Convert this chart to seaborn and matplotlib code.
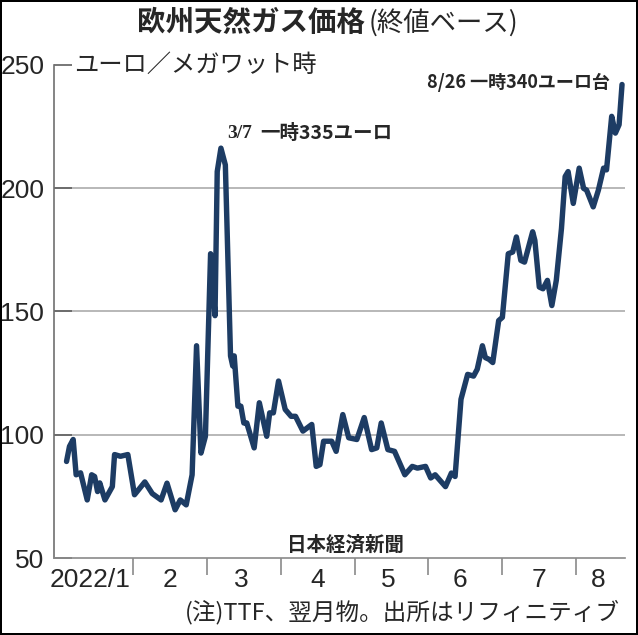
import pandas as pd
import seaborn as sns
import matplotlib.pyplot as plt

# x = position in months (0 = start of Jan 2022), values in euro / MWh
month_pos = [0.10, 0.14, 0.19, 0.23, 0.29, 0.38, 0.44, 0.48, 0.52, 0.55,
             0.62, 0.72, 0.75, 0.83, 0.93, 1.02, 1.16, 1.26, 1.38, 1.46,
             1.57, 1.64, 1.72, 1.80, 1.86, 1.92, 1.98, 2.05, 2.11, 2.14,
             2.19, 2.25, 2.32, 2.35, 2.37, 2.42, 2.46, 2.50, 2.54, 2.64,
             2.71, 2.81, 2.85, 2.90, 2.97, 3.06, 3.14, 3.20, 3.30, 3.42,
             3.48, 3.53, 3.58, 3.69, 3.75, 3.84, 3.92, 4.03, 4.13, 4.23,
             4.30, 4.36, 4.45, 4.54, 4.68, 4.78, 4.85, 4.96, 5.03, 5.09,
             5.23, 5.31, 5.36, 5.44, 5.53, 5.61, 5.66, 5.73, 5.77, 5.82,
             5.87, 5.95, 6.00, 6.08, 6.14, 6.19, 6.25, 6.30, 6.41, 6.44,
             6.50, 6.55, 6.61, 6.67, 6.73, 6.80, 6.85, 6.89, 6.96, 7.04,
             7.10, 7.14, 7.23, 7.30, 7.37, 7.41, 7.48, 7.53, 7.58, 7.62]
price = [89.2, 95.3, 98.1, 83.8, 84.6, 73.6, 83.8, 83.1, 77.0, 80.5,
         73.6, 79.0, 92.0, 91.3, 92.0, 75.7, 80.9, 76.2, 73.6, 80.4,
         69.6, 73.6, 71.6, 83.8, 136.1, 92.6, 99.4, 173.4, 148.3, 206.7,
         216.2, 209.4, 132.0, 127.9, 132.0, 111.6, 111.6, 104.8, 104.8, 94.7,
         113.0, 99.4, 108.9, 108.9, 121.8, 110.3, 107.5, 107.5, 101.5, 104.2,
         87.2, 87.9, 97.4, 97.4, 93.3, 108.2, 98.8, 98.1, 107.0, 94.0,
         94.7, 104.8, 94.0, 93.3, 83.8, 87.2, 86.5, 87.2, 82.5, 83.8,
         79.0, 84.5, 83.1, 114.4, 124.5, 123.8, 126.6, 136.1, 131.3, 130.6,
         129.3, 146.3, 147.6, 173.4, 174.1, 180.2, 170.7, 170.0, 182.3, 178.8,
         159.9, 159.2, 162.6, 152.4, 162.6, 183.6, 204.7, 206.7, 193.8, 208.1,
         199.9, 199.2, 192.4, 199.2, 208.1, 207.4, 229.1, 222.3, 225.7, 242.0]

month_labels = ["2022/1", "2", "3", "4", "5", "6", "7", "8"]
month_bounds = [1, 2, 3, 4, 5, 6, 7]
label_pos = [0.42, 1.50, 2.47, 3.50, 4.46, 5.43, 6.50, 7.30]
y_ticks = [50, 100, 150, 200, 250]

df = pd.DataFrame({"month": month_pos, "price": price})

sns.set_style("white")
num_font = ["Liberation Sans", "DejaVu Sans"]
plt.rcParams["font.family"] = ["Noto Sans CJK JP", "DejaVu Sans"]

fig = plt.figure(figsize=(6.38, 6.35), dpi=100)
fig.patch.set_edgecolor("black")
fig.patch.set_linewidth(1.5)
ax = fig.add_axes([0.0846, 0.121, 0.895, 0.777])

for g in [100, 150, 200]:
    ax.axhline(g, color="#ababab", lw=1.2, zorder=0)

sns.lineplot(data=df, x="month", y="price", ax=ax, color="#1d3c64",
             lw=3.9, zorder=3)

ax.set_xlim(-0.07, 7.66)
ax.set_ylim(50, 250)
ax.set_xlabel("")
ax.set_ylabel("")

ax.set_yticks(y_ticks)
ax.set_yticklabels([str(t) for t in y_ticks], family=num_font, fontsize=19)
ax.tick_params(axis="y", direction="in", length=13, width=1.2,
               color="#606060", pad=7, left=True)

ax.set_xticks(month_bounds)
ax.set_xticklabels([])
ax.set_xticks(label_pos, minor=True)
ax.set_xticklabels(month_labels, minor=True, family=num_font, fontsize=19)
ax.tick_params(axis="x", which="major", direction="out", length=12,
               width=1.2, color="#8a8a8a", bottom=True)
ax.tick_params(axis="x", which="minor", length=0, pad=7)

for s in ["top", "right"]:
    ax.spines[s].set_visible(False)
ax.spines["left"].set_color("#707070")
ax.spines["left"].set_linewidth(1.2)
ax.spines["bottom"].set_color("#8a8a8a")
ax.spines["bottom"].set_linewidth(1.2)

# title and labels
fig.text(0.215, 0.964, "欧州天然ガス価格", fontsize=20.5, fontweight="bold",
         ha="left", va="center")
fig.text(0.578, 0.964, "(終値ベース)", fontsize=19, ha="left", va="center")
ax.text(0.035, 1.0, "ユーロ／メガワット時", transform=ax.transAxes,
        fontsize=17.5, ha="left", va="center")
ax.text(2.27, 222.0, "3/7", fontsize=14, fontweight="bold",
        family=["Liberation Serif", "DejaVu Serif"], ha="left", va="center")
ax.text(2.72, 222.0, "一時335ユーロ", fontsize=14, fontweight="bold",
        ha="left", va="center")
ax.text(7.46, 243.0, "8/26 一時340ユーロ台", fontsize=13, fontweight="bold",
        ha="right", va="center")
ax.text(0.511, 0.027, "日本経済新聞", transform=ax.transAxes, fontsize=14,
        fontweight="bold", ha="center", va="center")
fig.text(0.972, 0.036, "(注)TTF、翌月物。出所はリフィニティブ", fontsize=17,
         ha="right", va="center")

fig.savefig("out.png", dpi=100, facecolor="white", edgecolor="black")
